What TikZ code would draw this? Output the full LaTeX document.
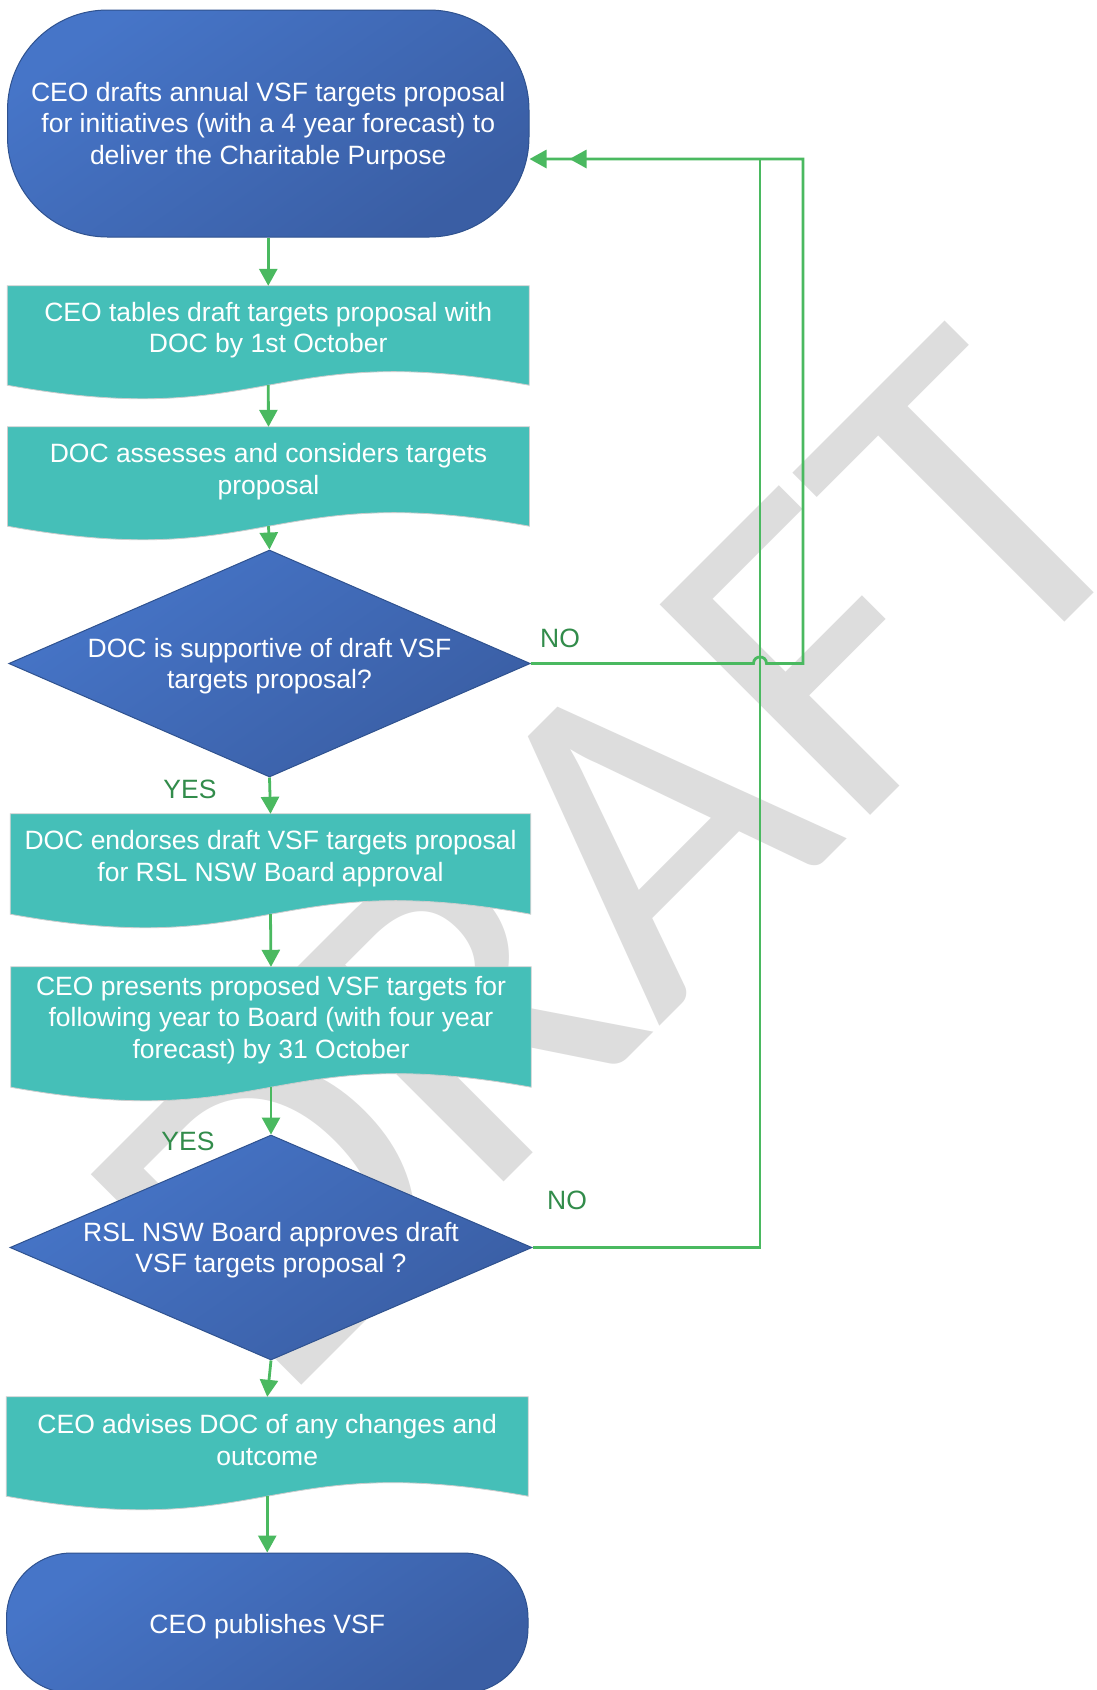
\documentclass[tikz,border=0pt]{standalone}
\usepackage{fontspec}
\setmainfont{Liberation Sans}
\newfontfamily\wmfont{Carlito}
\usetikzlibrary{shapes.geometric,arrows.meta,calc}
\definecolor{blueA}{RGB}{70,117,200}
\definecolor{blueB}{RGB}{58,94,164}
\definecolor{blueEdge}{RGB}{47,82,143}
\definecolor{tealF}{RGB}{69,191,184}
\definecolor{tealEdge}{RGB}{205,205,205}
\definecolor{lineG}{RGB}{74,185,96}
\definecolor{labG}{RGB}{50,140,75}
\definecolor{wmark}{RGB}{221,221,221}
\pgfdeclarelayer{wmlayer}
\pgfdeclarelayer{bglayer}
\pgfsetlayers{wmlayer,bglayer,main}
\tikzset{
  every node/.style={font=\fontsize{26.5}{31.5}\selectfont},
  txt/.style={text=white, align=center, inner sep=0pt},
  bluefill/.style={draw=blueEdge, line width=1pt, shading=axis, top color=blueA, bottom color=blueB, shading angle=35},
  term/.style={bluefill, rectangle, inner sep=0pt, minimum width=521.5pt},
  decide/.style={bluefill, diamond, inner sep=0pt, minimum width=#1, minimum height=227pt},
  docnode/.style={rectangle, inner sep=0pt, minimum width=#1},
  docfill/.style={fill=tealF, draw=tealEdge, line width=0.8pt},
  conn/.style={draw=lineG, line width=2.8pt, -{Triangle[length=17pt,width=18pt]}},
  lab/.style={text=labG, inner sep=0pt},
  wm/.style={text=wmark, font=\wmfont\fontsize{464}{464}\selectfont, rotate=45, inner sep=0pt},
}
\newcommand\docwave[1]{\path[docfill] (#1.north west) -- (#1.north east) -- (#1.south east)
  .. controls ($(#1.south)+(0,-47)$) and ($(#1.south)+(0,47)$) .. (#1.south west) -- cycle;}
\begin{document}
\begin{tikzpicture}[x=1pt,y=-1pt]
\useasboundingbox (0,0) rectangle (1096,1690);

\begin{pgfonlayer}{wmlayer}
  \fill[white] (0,0) rectangle (1096,1690);
  \node[wm] (draft) at (614,862) {DRAFT};
\end{pgfonlayer}

% terminators
\node[term, minimum height=227pt, rounded corners=100pt,
  label={[txt, yshift=-2.5pt]center:CEO drafts annual VSF targets proposal\\for initiatives (with a 4 year forecast) to\\deliver the Charitable Purpose}] (p1) at (268.25,123.5) {};
\node[term, minimum height=140pt, rounded corners=65pt,
  label={[txt, yshift=-4pt]center:CEO publishes VSF}] (p2) at (267.25,1623) {};

% document boxes
\node[docnode=521.5pt, minimum height=99pt,
  label={[txt, yshift=5.5pt]center:CEO tables draft targets proposal with\\DOC by 1st October}] (b1) at (268.25,335.5) {};
\node[docnode=521.5pt, minimum height=99pt,
  label={[txt, yshift=5pt]center:DOC assesses and considers targets\\proposal}] (b2) at (268.5,476.5) {};
\node[docnode=520pt, minimum height=100pt,
  label={[txt, yshift=5.5pt]center:DOC endorses draft VSF targets proposal\\for RSL NSW Board approval}] (b3) at (270.5,864) {};
\node[docnode=520pt, minimum height=120pt,
  label={[txt, yshift=7pt]center:CEO presents proposed VSF targets for\\following year to Board (with four year\\forecast) by 31 October}] (b4) at (271,1027) {};
\node[docnode=521.5pt, minimum height=99pt,
  label={[txt, yshift=6.5pt]center:CEO advises DOC of any changes and\\outcome}] (b5) at (267.25,1446.5) {};

\begin{pgfonlayer}{bglayer}
  \docwave{b1}
  \docwave{b2}
  \docwave{b3}
  \docwave{b4}
  \docwave{b5}
\end{pgfonlayer}

% decisions
\node[decide=521.5pt, label={[txt, yshift=-2.5pt]center:DOC is supportive of draft VSF\\targets proposal?}] (d1) at (269.5,663.5) {};
\node[decide=522pt, minimum height=225pt, label={[txt, yshift=-2.5pt]center:RSL NSW Board approves draft\\VSF targets proposal ?}] (d2) at (271,1247.5) {};

% labels
\node[lab] (no1) at (560,638) {NO};
\node[lab] (yes1) at (190,789) {YES};
\node[lab] (yes2) at (188,1141) {YES};
\node[lab] (no2) at (567,1200) {NO};

% connectors
\draw[conn] (p1.south) -- (b1.north);
\draw[conn] (b1.south) -- (b2.north);
\draw[conn] (b2.south) -- (d1.north);
\draw[conn] (d1.south) -- (b3.north);
\draw[conn] (b3.south) -- (b4.north);
\draw[conn] (b4.south) -- (d2.north);
\draw[conn] (d2.south) -- (b5.north);
\draw[conn] (b5.south) -- (p2.north);

\coordinate (p1in) at ([yshift=-35.5pt]p1.east);
\draw[conn, shorten >=40pt] (d2.east) -- (760,1247.5) |- (p1in);
\draw[conn] (d1.east) -- (753.5,663.5) .. controls (753.5,654.8) and (766.5,654.8) .. (766.5,663.5)
  -- (803,663.5) |- (p1in);
\end{tikzpicture}
\end{document}
